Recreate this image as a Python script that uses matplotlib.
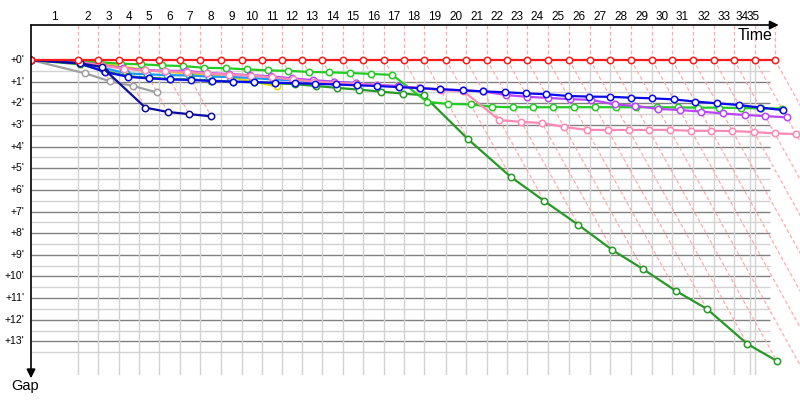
import numpy as np
import matplotlib
matplotlib.use("Agg")
import matplotlib.pyplot as plt

plt.rcParams['font.family'] = ['Liberation Sans', 'DejaVu Sans']

# ---------------- data ----------------
# leader's cumulative race time (minutes) at the end of each lap (index 0 = start)
leader_time = [0.0, 3.92, 5.58, 7.33, 9.0, 10.67, 12.42, 14.08, 15.83, 17.58, 19.25,
               20.92, 22.58, 24.25, 26.0, 27.67, 29.42, 31.08, 32.75, 34.58, 36.25,
               38.0, 39.67, 41.33, 43.08, 44.83, 46.58, 48.25, 50.0, 51.75, 53.42,
               55.17, 56.92, 58.58, 60.33, 62.0]
lap_labels = [str(i) for i in range(1, 36)]

# gap to leader (minutes) at the end of each lap, index 0 = start
gap_red = [0.0] * 36
gap_green = [0, 0.05, 0.1, 0.17, 0.2, 0.25, 0.28, 0.36, 0.38, 0.43, 0.48, 0.5, 0.55,
             0.57, 0.6, 0.64, 0.69, 1.93, 2.03, 2.05, 2.16, 2.18, 2.18, 2.18, 2.18,
             2.18, 2.18, 2.18, 2.18, 2.19, 2.2, 2.2, 2.22, 2.23, 2.24]
gap_darkgreen = [0, 0.2, 0.5, 0.75, 0.82, 0.88, 0.9, 0.95, 1.0, 1.03, 1.07, 1.12, 1.2,
                 1.29, 1.37, 1.46, 1.55, 1.63, 3.65, 5.4, 6.51, 7.62, 8.78, 9.65,
                 10.67, 11.5, 13.12, 13.9]
gap_blue = [0, 0.15, 0.55, 0.78, 0.85, 0.9, 0.92, 0.97, 1.0, 1.02, 1.05, 1.07, 1.1,
            1.13, 1.17, 1.2, 1.25, 1.3, 1.35, 1.4, 1.45, 1.49, 1.54, 1.58, 1.66, 1.69,
            1.7, 1.74, 1.77, 1.82, 1.92, 2.0, 2.08, 2.2, 2.31]
gap_purple = [0, 0.1, 0.22, 0.37, 0.46, 0.5, 0.5, 0.6, 0.65, 0.7, 0.75, 0.85, 0.93,
              1.0, 1.07, 1.15, 1.2, 1.3, 1.36, 1.4, 1.45, 1.62, 1.7, 1.75, 1.81, 1.84,
              2.05, 2.12, 2.26, 2.31, 2.38, 2.47, 2.54, 2.59, 2.65]
gap_pink = [0, 0.1, 0.25, 0.4, 0.48, 0.53, 0.55, 0.62, 0.68, 0.72, 0.8, 0.9, 1.0,
            1.05, 1.1, 1.17, 1.25, 1.29, 1.39, 1.43, 2.77, 2.86, 2.91, 3.09, 3.23,
            3.23, 3.23, 3.23, 3.23, 3.27, 3.27, 3.28, 3.33, 3.39, 3.42]
gap_lightblue = [0, 0.1, 0.35, 0.62, 0.66, 0.7, 0.71, 0.77, 0.78, 0.83, 0.9, 0.93,
                 0.98, 1.02, 1.06]
gap_yellow = [0, 0.05, 0.15, 0.3, 0.45, 0.55, 0.62, 0.7, 0.8, 1.0, 1.22]
gap_gray = [0, 0.62, 0.98, 1.2, 1.5]
gap_darkblue = [0, 0.15, 0.32, 2.2, 2.4, 2.5, 2.6]

series = [
    (gap_gray, '#A0A0A0'),
    (gap_yellow, '#DDDD00'),
    (gap_lightblue, '#1E9BFF'),
    (gap_darkgreen, '#259B25'),
    (gap_green, '#22CC22'),
    (gap_purple, '#BB44FF'),
    (gap_pink, '#FF88B4'),
    (gap_blue, '#0A0AEE'),
    (gap_darkblue, '#0C0CA0'),
    (gap_red, '#FF1A1A'),
]

# ---------------- chart frame (minutes) ----------------
X_MAX = 64.08
Y_TOP = -1.617
Y_BOT = 14.55
GRID_X_END = 59.9      # end of vertical grid / time axis scale
HGRID_X_END = 61.6

fig = plt.figure(figsize=(8, 4), dpi=100)
ax = fig.add_axes([31 / 800, 25 / 400, 769 / 800, 350 / 400])
ax.set_xlim(0, X_MAX)
ax.set_ylim(Y_BOT, Y_TOP)
ax.axis('off')

T = np.array(leader_time)

# horizontal grid
for g in np.arange(0.5, 14.0, 0.5):
    major = abs(g - round(g)) < 1e-9
    ax.hlines(g, 0, HGRID_X_END, color='#808080' if major else '#D2D2D2',
              lw=1.0, zorder=1)
# vertical grid
vx = list(T[1:35]) + [GRID_X_END]
ax.vlines(vx, 0, Y_BOT, color='#D2D2D2', lw=1.0, zorder=1)

# lap dashed guides
dash_kw = dict(color='#FFAAAA', lw=0.9, ls=(0, (3, 2)), zorder=2)
n_dg = len(gap_darkgreen)
for n in range(1, 36):
    ax.plot([T[n], T[n]], [Y_TOP, 0], clip_on=False, **dash_kw)
    gaps_n = [s[0][n] for s in series if len(s[0]) > n]
    gend = max(gaps_n) if n < n_dg else Y_BOT
    ax.plot([T[n], T[n] + gend], [0, gend], **dash_kw)

# series
for k, (g, c) in enumerate(series):
    g = np.array(g, dtype=float)
    x = T[:len(g)] + g
    ax.plot(x, g, color=c, lw=1.6, marker='o', ms=4.6, mfc='white', mec=c,
            mew=1.1, zorder=3 + k)

# axes arrows
ax.annotate('', xy=(62.3, Y_TOP), xytext=(0, Y_TOP),
            arrowprops=dict(arrowstyle='-|>', color='black', lw=1.2,
                            mutation_scale=13, shrinkA=0, shrinkB=0),
            annotation_clip=False, zorder=20)
ax.annotate('', xy=(0, 14.7), xytext=(0, Y_TOP),
            arrowprops=dict(arrowstyle='-|>', color='black', lw=1.2,
                            mutation_scale=13, shrinkA=0, shrinkB=0),
            annotation_clip=False, zorder=20)

# lap labels (last ones squeezed at the end of the time scale, as in the source)
for n in range(1, 36):
    a = min(T[n - 1], GRID_X_END)
    b = min(T[n], GRID_X_END)
    xm = (a + b) / 2
    if n == 35:
        xm += 0.3
    ax.text(xm, -1.99, lap_labels[n - 1], ha='center', va='center',
            fontsize=8.5, clip_on=False)

# gap labels
for m in range(0, 14):
    ax.text(-0.55, m, f"+{m}'", ha='right', va='center', fontsize=7.5,
            clip_on=False)

ax.text(61.8, -1.12, 'Time', ha='right', va='center', fontsize=11.5, clip_on=False)
ax.text(-1.67, 15.05, 'Gap', ha='left', va='center', fontsize=10.5, clip_on=False)

fig.savefig('out.png', dpi=100)
